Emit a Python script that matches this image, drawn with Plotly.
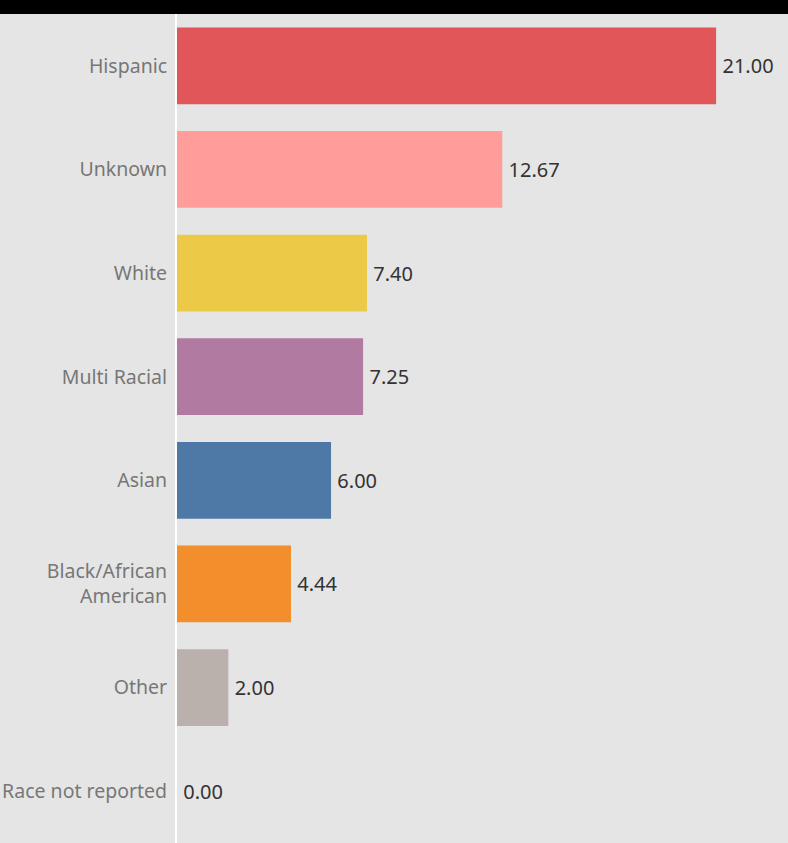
import plotly.graph_objects as go

# Average value by race/ethnicity
categories = ["Hispanic", "Unknown", "White", "Multi Racial", "Asian",
              "Black/African<br>American", "Other", "Race not reported"]
values = [21.00, 12.67, 7.40, 7.25, 6.00, 4.44, 2.00, 0.00]
colors = ["#e15759", "#ff9d9a", "#edc948", "#b07aa1", "#4e79a7",
          "#f28e2b", "#bab0ac", "#bab0ac"]

W, H = 788, 843
TOP, LEFT = 14, 177

fig = go.Figure(go.Bar(
    x=values,
    y=categories,
    orientation="h",
    marker=dict(color=colors, line=dict(width=0)),
    texttemplate="\u2009%{x:.2f}",
    textposition="outside",
    textfont=dict(family="Noto Sans", size=20, color="#333333"),
    cliponaxis=False,
    hoverinfo="skip",
))

fig.update_layout(
    width=W, height=H,
    margin=dict(l=LEFT, r=0, t=TOP, b=0, pad=0),
    paper_bgcolor="#e5e5e5",
    plot_bgcolor="#e5e5e5",
    bargap=0.26,
    showlegend=False,
    font=dict(family="Noto Sans", size=19.5, color="#777777"),
    shapes=[dict(type="rect", xref="paper", yref="paper",
                 x0=-1, x1=1.1, y0=1, y1=1 + 20 / (H - TOP),
                 fillcolor="#000000", line=dict(width=0), layer="above")],
)

fig.update_xaxes(
    range=[0, 23.8], visible=True, showticklabels=False, showgrid=False,
    zeroline=False, showline=False, ticks="",
)
fig.update_yaxes(
    autorange="reversed", showgrid=False, zeroline=False,
    showline=True, linecolor="#ffffff", linewidth=2, mirror=False,
    ticks="", ticklabelstandoff=4,
    tickfont=dict(family="Noto Sans", size=19.5, color="#777777"),
    automargin=False,
)

fig.write_html("out.html")
